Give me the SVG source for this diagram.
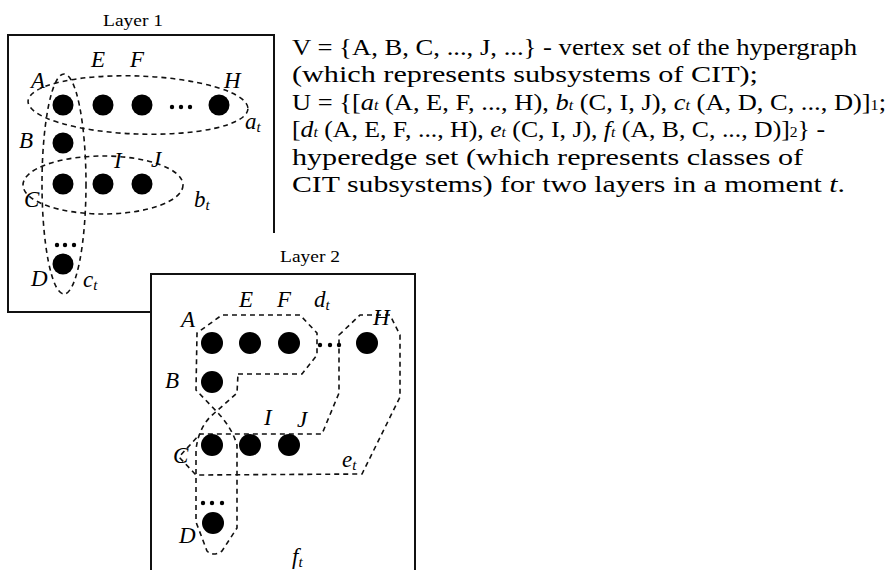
<svg xmlns="http://www.w3.org/2000/svg" width="893" height="570" viewBox="0 0 893 570">
<style>
.frame{fill:none;stroke:#111;stroke-width:2}
.he{fill:none;stroke:#111;stroke-width:1.6;stroke-dasharray:5 4}
.n{fill:#000}
.d{fill:#000}
.lb{font-family:'Liberation Serif','Times New Roman',Times,serif;font-style:italic;font-size:23px;fill:#000}
.sb{font-size:15px}
.ttl{font-family:'Liberation Serif','Times New Roman',Times,serif;font-size:17px;fill:#000}
.tx{font-family:'Liberation Serif','Times New Roman',Times,serif;font-size:23px;fill:#000}
.it{font-style:italic}
.sm{font-size:14px}
</style>
<rect width="893" height="570" fill="#fff"/>
<g id="layer1-frame">
<path class="frame" d="M151,312 H8 V35 H274 V233"/>
<text class="ttl" x="133" y="26" text-anchor="middle" textLength="60" lengthAdjust="spacingAndGlyphs">Layer 1</text>
</g>
<g id="layer2-frame">
<rect class="frame" x="151" y="274" width="264" height="310"/>
<text class="ttl" x="310" y="262" text-anchor="middle" textLength="60" lengthAdjust="spacingAndGlyphs">Layer 2</text>
</g>
<g id="connectors">
<ellipse id="a_t" class="he" cx="138" cy="105" rx="110" ry="29" transform="rotate(2 138 105)"/>
<ellipse id="b_t" class="he" cx="103" cy="185" rx="80" ry="29"/>
<ellipse id="c_t" class="he" cx="64" cy="184" rx="22" ry="110"/>
<path id="d_t-f_t" class="he" d="M238,374 L302,374 L317,355 L317,333 L300,315 L222,315 L197,333 L196,390 L218,413 Q232,428 237,445 L237,528 L222,551 Q213,557 207,551 L196,522 L196,450 Q198,430 210,417 L237,393 Z"/>
<path id="e_t" class="he" d="M339,335 L360,315 L390,315 L400,335 L400,397 L362,474 L196,475 L179,457 L200,434 L322,434 L339,393 Z"/>
</g>
<g id="L1-A"><circle class="n" cx="63" cy="105" r="10.5"/><text class="lb" x="31" y="88">A</text></g>
<g id="L1-E"><circle class="n" cx="103" cy="105" r="10.5"/><text class="lb" x="91" y="67">E</text></g>
<g id="L1-F"><circle class="n" cx="142" cy="105" r="10.5"/><text class="lb" x="130" y="67">F</text></g>
<g id="L1-dots1"><circle class="d" cx="172" cy="107" r="2.2"/><circle class="d" cx="181" cy="107" r="2.2"/><circle class="d" cx="190" cy="107" r="2.2"/></g>
<g id="L1-H"><circle class="n" cx="219" cy="105" r="10.5"/><text class="lb" x="224" y="88">H</text></g>
<g id="L1-B"><circle class="n" cx="63" cy="143" r="10.5"/><text class="lb" x="19" y="148">B</text></g>
<g id="L1-C"><circle class="n" cx="63" cy="184" r="10.5"/><text class="lb" x="24" y="207">C</text></g>
<g id="L1-I"><circle class="n" cx="103" cy="184" r="10.5"/><text class="lb" x="114" y="168">I</text></g>
<g id="L1-J"><circle class="n" cx="142" cy="184" r="10.5"/><text class="lb" x="151" y="167">J</text></g>
<g id="L1-dots2"><circle class="d" cx="57" cy="245" r="2.2"/><circle class="d" cx="65" cy="245" r="2.2"/><circle class="d" cx="74" cy="245" r="2.2"/></g>
<g id="L1-D"><circle class="n" cx="63" cy="264" r="10.5"/><text class="lb" x="31" y="286">D</text></g>
<g id="L1-labels">
<text class="lb" x="245" y="129">a<tspan class="sb" dy="3">t</tspan></text>
<text class="lb" x="194" y="207">b<tspan class="sb" dy="3">t</tspan></text>
<text class="lb" x="83" y="287">c<tspan class="sb" dy="3">t</tspan></text>
</g>
<g id="L2-A"><circle class="n" cx="212" cy="343" r="11"/><text class="lb" x="181" y="327">A</text></g>
<g id="L2-E"><circle class="n" cx="250" cy="343" r="11"/><text class="lb" x="239" y="307">E</text></g>
<g id="L2-F"><circle class="n" cx="289" cy="343" r="11"/><text class="lb" x="277" y="307">F</text></g>
<g id="L2-dots1"><circle class="d" cx="320" cy="345" r="2.2"/><circle class="d" cx="330" cy="345" r="2.2"/><circle class="d" cx="339" cy="345" r="2.2"/></g>
<g id="L2-H"><circle class="n" cx="367" cy="343" r="11"/><text class="lb" x="373" y="325">H</text></g>
<g id="L2-B"><circle class="n" cx="212" cy="382" r="11"/><text class="lb" x="165" y="388">B</text></g>
<g id="L2-C"><circle class="n" cx="212" cy="445" r="11"/><text class="lb" x="173" y="463">C</text></g>
<g id="L2-I"><circle class="n" cx="250" cy="445" r="11"/><text class="lb" x="264" y="425">I</text></g>
<g id="L2-J"><circle class="n" cx="289" cy="445" r="11"/><text class="lb" x="297" y="427">J</text></g>
<g id="L2-dots2"><circle class="d" cx="203" cy="503" r="2.2"/><circle class="d" cx="212" cy="503" r="2.2"/><circle class="d" cx="222" cy="503" r="2.2"/></g>
<g id="L2-D"><circle class="n" cx="213" cy="523" r="11"/><text class="lb" x="179" y="543">D</text></g>
<g id="L2-labels">
<text class="lb" x="314" y="307">d<tspan class="sb" dy="3">t</tspan></text>
<text class="lb" x="342" y="467">e<tspan class="sb" dy="3">t</tspan></text>
<text class="lb" x="292" y="564">f<tspan class="sb" dy="3">t</tspan></text>
</g>
<g id="description">
<text class="tx" x="292" y="55" textLength="565" lengthAdjust="spacingAndGlyphs">V = {A, B, C, ..., J, ...} - vertex set of the hypergraph</text>
<text class="tx" x="292" y="82" textLength="466" lengthAdjust="spacingAndGlyphs">(which represents subsystems of CIT);</text>
<text class="tx" x="292" y="110" textLength="594" lengthAdjust="spacingAndGlyphs">U = {[<tspan class="it">a</tspan><tspan class="it sm">t</tspan> (A, E, F, ..., H), <tspan class="it">b</tspan><tspan class="it sm">t</tspan> (C, I, J), <tspan class="it">c</tspan><tspan class="it sm">t</tspan> (A, D, C, ..., D)]<tspan class="sm">1</tspan>;</text>
<text class="tx" x="292" y="137" textLength="533" lengthAdjust="spacingAndGlyphs">[<tspan class="it">d</tspan><tspan class="it sm">t</tspan> (A, E, F, ..., H), <tspan class="it">e</tspan><tspan class="it sm">t</tspan> (C, I, J), <tspan class="it">f</tspan><tspan class="it sm">t</tspan> (A, B, C, ..., D)]<tspan class="sm">2</tspan>} -</text>
<text class="tx" x="292" y="165" textLength="511" lengthAdjust="spacingAndGlyphs">hyperedge set (which represents classes of</text>
<text class="tx" x="292" y="192" textLength="553" lengthAdjust="spacingAndGlyphs">CIT subsystems) for two layers in a moment <tspan class="it">t</tspan>.</text>
</g>
</svg>
